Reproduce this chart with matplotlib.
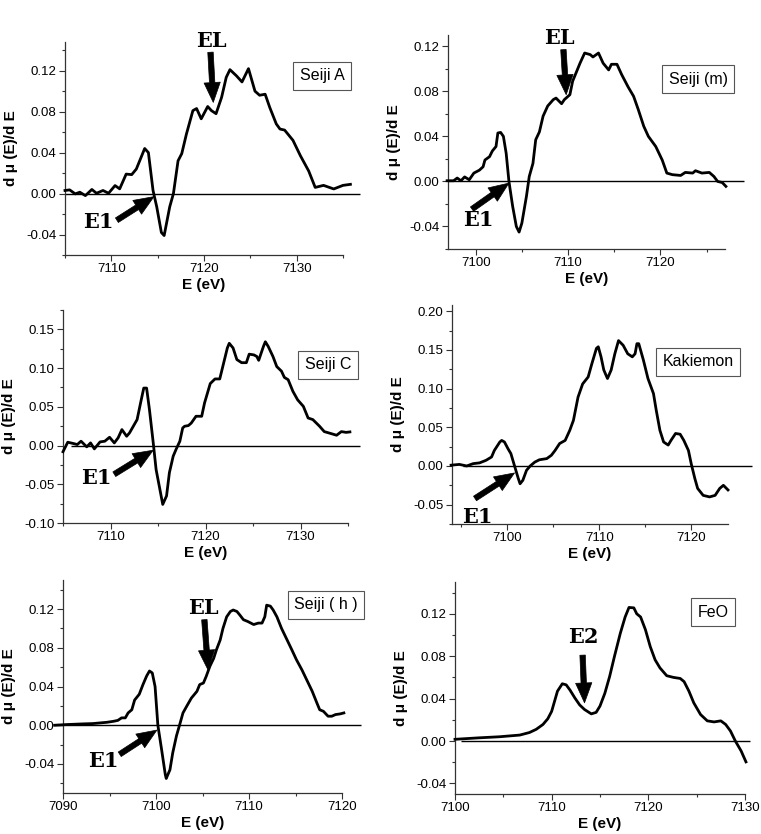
import numpy as np
import matplotlib
matplotlib.use('Agg')
import matplotlib.pyplot as plt
from matplotlib.ticker import MultipleLocator, FormatStrFormatter

plt.rcParams['font.family'] = ['Liberation Sans', 'DejaVu Sans']
plt.rcParams['axes.unicode_minus'] = False

# ---------------- data ----------------
# Seiji A
E_a = [7105.0, 7105.5, 7106.1, 7106.6, 7107.2, 7107.9, 7108.4, 7109.1, 7109.7, 7110.4,
       7110.9, 7111.6, 7112.2, 7112.7, 7113.6, 7114.0, 7114.5, 7114.9, 7115.4, 7115.7,
       7116.3, 7116.7, 7117.2, 7117.6, 7118.1, 7118.8, 7119.2, 7119.7, 7120.4, 7120.8,
       7121.3, 7121.9, 7122.4, 7122.8, 7123.5, 7124.1, 7124.8, 7125.5, 7126.0, 7126.6,
       7127.1, 7127.8, 7128.2, 7128.7, 7129.6, 7130.4, 7131.3, 7132.0, 7132.9, 7134.0,
       7135.0, 7135.8]
d_a = [0.003, 0.0036, -0.0003, 0.0013, -0.002, 0.004, 0.0003, 0.003, 0.0003, 0.0078,
       0.0046, 0.019, 0.0185, 0.024, 0.044, 0.040, 0.003, -0.013, -0.038, -0.041,
       -0.013, 0.0, 0.032, 0.039, 0.058, 0.081, 0.083, 0.073, 0.085, 0.081,
       0.078, 0.094, 0.1135, 0.121, 0.115, 0.109, 0.122, 0.100, 0.096, 0.097,
       0.084, 0.068, 0.063, 0.062, 0.052, 0.037, 0.022, 0.006, 0.008, 0.0045,
       0.008, 0.009]

# Seiji (m)
E_m = [7096.9, 7097.6, 7098.0, 7098.4, 7098.8, 7099.3, 7099.8, 7100.4, 7100.8, 7101.0,
       7101.5, 7101.8, 7102.2, 7102.4, 7102.7, 7103.0, 7103.3, 7103.6, 7104.0, 7104.4,
       7104.7, 7105.0, 7105.5, 7105.8, 7106.2, 7106.5, 7106.9, 7107.3, 7107.8, 7108.4,
       7108.7, 7109.3, 7109.6, 7110.2, 7110.5, 7111.3, 7111.8, 7112.4, 7112.7, 7113.3,
       7113.8, 7114.4, 7114.7, 7115.3, 7115.8, 7116.5, 7117.1, 7117.6, 7118.2, 7118.7,
       7119.5, 7120.2, 7120.7, 7121.3, 7122.2, 7122.7, 7123.5, 7123.8, 7124.5, 7125.3,
       7125.8, 7126.2, 7126.7, 7127.1]
d_m = [0.0006, 0.0006, 0.003, 0.0006, 0.004, 0.0015, 0.0074, 0.010, 0.013, 0.019,
       0.022, 0.027, 0.031, 0.043, 0.0435, 0.040, 0.025, 0.0, -0.022, -0.040,
       -0.045, -0.037, -0.013, 0.0044, 0.016, 0.037, 0.044, 0.058, 0.067, 0.0726,
       0.074, 0.069, 0.0726, 0.077, 0.089, 0.105, 0.114, 0.1126, 0.1105, 0.114,
       0.105, 0.099, 0.104, 0.104, 0.095, 0.084, 0.0756, 0.064, 0.049, 0.040,
       0.031, 0.019, 0.0074, 0.006, 0.0053, 0.008, 0.0074, 0.0095, 0.0074, 0.008,
       0.0044, 0.0, -0.001, -0.0044]

# Seiji C
E_c = [7105.0, 7105.5, 7106.1, 7106.5, 7106.9, 7107.5, 7107.9, 7108.3, 7108.9, 7109.4,
       7109.9, 7110.4, 7110.8, 7111.2, 7111.7, 7112.0, 7112.4, 7112.8, 7113.2, 7113.5,
       7113.8, 7114.1, 7114.5, 7114.8, 7115.2, 7115.5, 7115.9, 7116.2, 7116.6, 7116.9,
       7117.3, 7117.6, 7117.8, 7118.2, 7118.5, 7119.0, 7119.6, 7119.9, 7120.5, 7121.0,
       7121.5, 7121.9, 7122.3, 7122.5, 7122.9, 7123.3, 7123.8, 7124.3, 7124.6, 7125.1,
       7125.4, 7125.6, 7126.1, 7126.3, 7126.6, 7127.1, 7127.5, 7128.0, 7128.3, 7128.7,
       7129.2, 7129.7, 7130.3, 7130.8, 7131.3, 7132.0, 7132.5, 7133.2, 7133.8, 7134.3,
       7134.8, 7135.2]
d_c = [-0.008, 0.0043, 0.0026, 0.0013, 0.0056, -0.0017, 0.0034, -0.0043, 0.0047, 0.0056,
       0.0107, 0.0034, 0.0099, 0.0206, 0.012, 0.0163, 0.0249, 0.0335, 0.057, 0.0742,
       0.0742, 0.0464, 0.0034, -0.031, -0.0567, -0.076, -0.065, -0.035, -0.0137, -0.005,
       0.0056, 0.0227, 0.0249, 0.0258, 0.029, 0.0378, 0.0378, 0.055, 0.080, 0.086,
       0.086, 0.106, 0.126, 0.132, 0.126, 0.111, 0.107, 0.107, 0.118, 0.117,
       0.115, 0.110, 0.128, 0.134, 0.128, 0.115, 0.102, 0.096, 0.088, 0.085,
       0.070, 0.059, 0.0506, 0.0356, 0.0335, 0.025, 0.018, 0.0155, 0.0133, 0.018,
       0.017, 0.0176]

# Kakiemon
E_k = [7093.9, 7094.8, 7095.6, 7096.3, 7097.0, 7097.7, 7098.3, 7098.6, 7099.2, 7099.4,
       7099.7, 7100.1, 7100.4, 7100.8, 7101.2, 7101.4, 7101.7, 7102.1, 7102.5, 7103.0,
       7103.5, 7104.3, 7104.8, 7105.2, 7105.7, 7106.3, 7106.8, 7107.2, 7107.7, 7108.2,
       7108.8, 7109.2, 7109.7, 7109.9, 7110.2, 7110.5, 7110.9, 7111.3, 7111.7, 7112.1,
       7112.6, 7113.1, 7113.6, 7113.9, 7114.1, 7114.3, 7114.8, 7115.3, 7115.9, 7116.2,
       7116.6, 7117.0, 7117.5, 7117.8, 7118.3, 7118.8, 7119.2, 7119.7, 7120.0, 7120.4,
       7120.7, 7121.3, 7122.0, 7122.6, 7123.1, 7123.5, 7124.0]
d_k = [0.001, 0.002, 0.0, 0.003, 0.004, 0.0073, 0.0116, 0.020, 0.031, 0.033,
       0.031, 0.022, 0.016, 0.0, -0.016, -0.023, -0.0185, -0.0056, 0.0, 0.005,
       0.008, 0.0095, 0.0138, 0.020, 0.029, 0.033, 0.046, 0.059, 0.089, 0.106,
       0.115, 0.132, 0.152, 0.154, 0.141, 0.124, 0.113, 0.124, 0.145, 0.162,
       0.156, 0.145, 0.141, 0.145, 0.158, 0.158, 0.137, 0.113, 0.0935, 0.072,
       0.046, 0.031, 0.027, 0.033, 0.042, 0.041, 0.033, 0.020, 0.003, -0.0164,
       -0.029, -0.038, -0.040, -0.038, -0.029, -0.025, -0.031]

# Seiji (h)
E_h = [7089.1, 7090.4, 7092.2, 7093.2, 7094.0, 7094.7, 7095.4, 7095.9, 7096.3, 7096.7,
       7097.0, 7097.4, 7097.7, 7098.2, 7098.6, 7099.0, 7099.3, 7099.6, 7099.9, 7100.2,
       7100.6, 7101.0, 7101.1, 7101.5, 7101.8, 7102.2, 7102.6, 7102.9, 7103.3, 7103.8,
       7104.4, 7104.7, 7105.1, 7105.4, 7105.8, 7106.2, 7106.5, 7106.9, 7107.2, 7107.6,
       7108.0, 7108.3, 7108.7, 7109.0, 7109.4, 7109.9, 7110.5, 7111.0, 7111.4, 7111.7,
       7111.9, 7112.3, 7112.6, 7113.0, 7113.5, 7114.1, 7114.6, 7115.1, 7115.7, 7116.2,
       7116.8, 7117.3, 7117.6, 7118.0, 7118.5, 7118.9, 7119.3, 7119.8, 7120.2]
d_h = [0.0, 0.0007, 0.0014, 0.0017, 0.0024, 0.003, 0.004, 0.005, 0.0076, 0.0076,
       0.0127, 0.016, 0.026, 0.032, 0.042, 0.051, 0.056, 0.054, 0.040, 0.0,
       -0.025, -0.051, -0.055, -0.046, -0.0285, -0.011, 0.0024, 0.0127, 0.0196, 0.028,
       0.035, 0.042, 0.0436, 0.0505, 0.061, 0.069, 0.078, 0.088, 0.100, 0.112,
       0.1175, 0.119, 0.1175, 0.114, 0.109, 0.107, 0.104, 0.1055, 0.1055, 0.112,
       0.124, 0.123, 0.119, 0.112, 0.100, 0.088, 0.078, 0.0677, 0.057, 0.047,
       0.035, 0.023, 0.016, 0.0144, 0.0093, 0.0093, 0.011, 0.0117, 0.0127]

# FeO
E_f = [7100.0, 7102.5, 7104.6, 7106.7, 7107.7, 7108.4, 7109.1, 7109.6, 7110.0, 7110.3,
       7110.6, 7111.1, 7111.5, 7111.9, 7112.4, 7112.9, 7113.4, 7114.1, 7114.6, 7115.0,
       7115.5, 7116.0, 7116.5, 7117.1, 7117.6, 7118.0, 7118.5, 7118.8, 7119.2, 7119.7,
       7120.2, 7120.7, 7121.2, 7121.9, 7122.6, 7123.3, 7123.7, 7124.2, 7124.7, 7125.4,
       7126.1, 7126.8, 7127.5, 7128.0, 7128.5, 7129.0, 7129.6, 7130.1]
d_f = [0.0016, 0.003, 0.004, 0.0056, 0.008, 0.011, 0.0156, 0.021, 0.028, 0.0375,
       0.047, 0.054, 0.053, 0.048, 0.0406, 0.034, 0.0297, 0.0256, 0.027, 0.033,
       0.045, 0.061, 0.080, 0.1016, 0.117, 0.126, 0.1256, 0.120, 0.117, 0.105,
       0.089, 0.0766, 0.069, 0.0616, 0.060, 0.059, 0.056, 0.047, 0.036, 0.025,
       0.019, 0.018, 0.019, 0.0156, 0.0094, 0.0, -0.0094, -0.0197]

names = ['Seiji A', 'Seiji (m)', 'Seiji C', 'Kakiemon', 'Seiji ( h )', 'FeO']
energies = [E_a, E_m, E_c, E_k, E_h, E_f]
derivs = [d_a, d_m, d_c, d_k, d_h, d_f]

# arrows: (label, text x, text y, tail x, tail y, tip x, tip y) in data units
marks = [
    [('E1', 7108.6, -0.028, 7110.6, -0.026, 7114.6, -0.003),
     ('EL', 7120.8, 0.149, 7120.7, 0.138, 7121.0, 0.089)],
    [('E1', 7100.3, -0.034, 7099.6, -0.0246, 7103.6, -0.0015),
     ('EL', 7109.1, 0.127, 7109.5, 0.117, 7109.8, 0.077)],
    [('E1', 7108.5, -0.042, 7110.4, -0.037, 7114.5, -0.006)],
    [('E1', 7096.8, -0.066, 7096.5, -0.042, 7100.8, -0.009)],
    [('E1', 7094.3, -0.037, 7096.1, -0.030, 7100.1, -0.005),
     ('EL', 7105.1, 0.121, 7105.2, 0.109, 7105.6, 0.057)],
    [('E2', 7113.3, 0.098, 7113.2, 0.081, 7113.4, 0.036)],
]

# ---------------- layout ----------------
W, H = 761, 834
boxes = [(65, 42, 343, 255), (448, 35, 725, 249),
         (63, 310, 348, 523), (452, 305, 728, 524),
         (63, 580, 342, 793), (455, 582, 745, 794)]
xlims = [(7105, 7135), (7097, 7127), (7105, 7135), (7094, 7124), (7090, 7120), (7100, 7130)]
ylims = [(-0.06, 0.148), (-0.06, 0.13), (-0.10, 0.175), (-0.075, 0.208), (-0.07, 0.15), (-0.05, 0.15)]
ysteps = [0.04, 0.04, 0.05, 0.05, 0.04, 0.04]
zero_ext = [(7105, 7136.8), (7097, 7129.1), (7105.8, 7136.3), (7095.2, 7126.6), (7089, 7122), (7100.6, 7130.5)]
name_pos = [(0.925, 0.842), (0.903, 0.794), (0.93, 0.742), (0.891, 0.74), (0.943, 0.883), (0.89, 0.858)]

fig = plt.figure(figsize=(W / 100, H / 100), dpi=100)
axc = '#333333'

for i in range(6):
    l, t, r, b = boxes[i]
    ax = fig.add_axes([l / W, 1 - b / H, (r - l) / W, (b - t) / H])
    ax.plot(energies[i], derivs[i], color='black', lw=2.0, clip_on=False, zorder=3)
    ax.hlines(0, zero_ext[i][0], zero_ext[i][1], color='black', lw=1.0, clip_on=False, zorder=2)

    ax.set_xlim(*xlims[i])
    ax.set_ylim(*ylims[i])
    ax.xaxis.set_major_locator(MultipleLocator(10))
    ax.xaxis.set_minor_locator(MultipleLocator(5))
    ax.yaxis.set_major_locator(MultipleLocator(ysteps[i]))
    ax.yaxis.set_minor_locator(MultipleLocator(ysteps[i] / 2))
    ax.yaxis.set_major_formatter(FormatStrFormatter('%.2f'))

    for s in ['top', 'right']:
        ax.spines[s].set_visible(False)
    for s in ['left', 'bottom']:
        ax.spines[s].set_color(axc)
        ax.spines[s].set_linewidth(0.9)
    ax.tick_params(which='major', direction='out', length=4, width=0.8, color=axc,
                   labelsize=9.5, pad=2)
    ax.tick_params(which='minor', direction='out', length=2.5, width=0.8, color=axc)

    ax.set_xlabel('E (eV)', fontsize=11, fontweight='bold', labelpad=2)
    ax.set_ylabel('d μ (E)/d E', fontsize=11, fontweight='bold')
    ax.yaxis.set_label_coords(-47 / (r - l), 0.5)

    ax.text(name_pos[i][0], name_pos[i][1], names[i], transform=ax.transAxes,
            ha='center', va='center', fontsize=11.5,
            bbox=dict(boxstyle='square,pad=0.4', fc='white', ec='#555555', lw=0.8),
            clip_on=False, zorder=5)

    for lab, tx, ty, ax0, ay0, ax1, ay1 in marks[i]:
        ax.text(tx, ty, lab, ha='center', va='center', family='DejaVu Serif',
                fontweight='bold', fontsize=15, zorder=6, clip_on=False)
        ax.annotate('', xy=(ax1, ay1), xytext=(ax0, ay0),
                    arrowprops=dict(arrowstyle='simple,head_width=0.9,head_length=1.1,tail_width=0.3',
                                    fc='black', ec='black', lw=0.5, mutation_scale=13,
                                    shrinkA=0, shrinkB=0),
                    annotation_clip=False, zorder=6)

fig.savefig('out.png', dpi=100, facecolor='white')
